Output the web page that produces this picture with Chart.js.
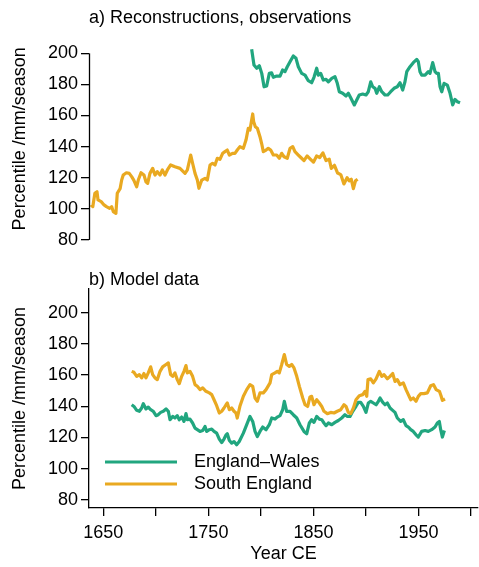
<!DOCTYPE html>
<html>
<head>
<meta charset="utf-8">
<script src="https://cdn.jsdelivr.net/npm/chart.js@4"></script>
<style>
  html, body { margin: 0; padding: 0; background: #fff; }
  #wrap { position: relative; width: 479px; height: 567px; }
  #wrap canvas { position: absolute; left: 0; top: 0; }
</style>
</head>
<body>
<div id="wrap">
  <canvas id="panelA" width="479" height="567"></canvas>
  <canvas id="panelB" width="479" height="567"></canvas>
</div>
<script>
// Seasonal precipitation percentile (mm/season), [year CE, value]

// a) reconstructions and observations
const southEnglandRecon = [
  [1638.3,102.5],[1640,101.4],[1642,110],[1644,111],[1645,105.7],[1648,104.6],[1650.7,102.5],[1653,101.4],
  [1656,100.3],[1658,101.4],[1659.5,98.2],[1662,97.1],[1663.3,110],[1666,113],[1667.5,118.5],[1669,121.7],
  [1672,123.2],[1674.7,122.8],[1677,120.7],[1679,118.5],[1681.8,114.2],[1683.3,118.5],[1685.9,123.2],
  [1688.7,121.7],[1690.6,117.4],[1692.2,116.4],[1694.4,122.8],[1697,126],[1699.2,121.7],[1701.4,123.9],
  [1704,121.7],[1706.2,125],[1708.7,121.7],[1711,125],[1714.1,128.2],[1718.2,127],[1723,126],[1727.8,122.8],
  [1730,125],[1733.2,134.6],[1735,129.3],[1737.3,122.8],[1739.5,118.5],[1741,113.2],[1743.7,118.5],
  [1746.8,119.6],[1749,118.5],[1751.6,128.2],[1754,129.3],[1756.3,128.2],[1758.5,132.5],[1761,131.8],
  [1763.6,135.7],[1765.8,136.8],[1768,137.8],[1770,134.6],[1773,135.7],[1775.3,135.7],[1777.5,137.8],
  [1780,140],[1783.3,138.9],[1785.8,144.2],[1788,151.8],[1789.6,150.7],[1791.2,157.1],[1792.2,161],
  [1793.1,156],[1794.7,152.8],[1796.6,151.8],[1799.1,146.4],[1800.7,142],[1802.3,136.8],[1804.9,137.8],
  [1807,138.9],[1809.3,137.8],[1811.8,134.6],[1815,134.6],[1817.5,132.5],[1819.8,135.7],[1822,133.5],
  [1825.1,132.5],[1827.7,138.9],[1830.3,140],[1832.4,136.8],[1835.6,134.6],[1838,133],[1841,131],
  [1844,134],[1847,132],[1850,130],[1853,134],[1856,133],[1859,136],[1862,131],[1865,132],[1867,126],
  [1870,128],[1873,123],[1876,122],[1879,116],[1882,120],[1884,118],[1886,119],[1888,113],[1890,118],
  [1892,119]
];

const englandWalesObs = [
  [1791.2,202.6],[1793.4,192.5],[1796,190.4],[1798.5,192],[1800.8,187.1],[1803,178.5],[1805.5,179],
  [1808,187.1],[1810.2,187.5],[1811.8,184.6],[1815,185.4],[1818.2,185.4],[1820.7,189.3],[1822.9,188.2],
  [1825.1,191.4],[1827.7,194.6],[1830.8,198.3],[1833.4,196.8],[1835.6,191.4],[1838.8,187.1],[1842,186],
  [1845.1,182.4],[1848.3,181.1],[1850.5,184.6],[1853.1,190.4],[1854.6,186],[1856.9,187.1],[1859.4,182.8],
  [1862,183.3],[1864.2,181.7],[1867.4,183.9],[1870.5,185],[1872.7,180.7],[1874.6,175.3],[1877.8,174.3],
  [1881,172.5],[1883.2,174.3],[1885.7,171.1],[1888.9,166.8],[1891.2,170],[1893.6,173.2],[1896.9,173.8],
  [1900,173.2],[1902.2,175.3],[1904.5,181.7],[1906.4,178.5],[1908.6,177.5],[1910.2,174.3],[1912.7,178.5],
  [1915,175.3],[1918.1,173.2],[1920.7,173.2],[1923.5,175.3],[1926.7,177.5],[1929.8,178.5],[1932.4,181.1],
  [1934.9,176.4],[1937.1,181.7],[1938.8,188.2],[1941.9,191.4],[1945,194],[1948.3,196.1],[1949.8,194.6],
  [1951.4,188.2],[1953,186],[1956.2,186],[1959.3,188.2],[1960.9,187.1],[1963.5,194],[1965.7,188.2],
  [1967.3,187.1],[1968.9,187.1],[1970.5,178.5],[1972.1,175.3],[1974.3,180.7],[1977.4,179.6],[1980,174.3],
  [1982.5,166.8],[1984.7,170.4],[1986.9,168.9],[1989.5,168.2]
];

// b) model data
const englandWalesModel = [
  [1677,141],[1679.2,139.9],[1681.8,137.4],[1684.3,136.8],[1686.5,138.9],[1688.1,141.7],[1690.6,138.3],
  [1692.8,139.5],[1695.1,137.8],[1697.6,136.8],[1700.2,134],[1702.3,134.6],[1704.6,136.1],[1707.1,136.8],
  [1709.7,138.3],[1711.9,136.8],[1713.5,131.4],[1716,133.5],[1718.2,132.5],[1720.4,134],[1722.3,131.4],
  [1724.6,133.1],[1726.8,130.3],[1728.7,135.3],[1730,131.4],[1732.5,131.8],[1735,129.3],[1737.3,126],
  [1739.5,125],[1742,123.9],[1744.6,124.5],[1746.8,127.1],[1748.4,123.9],[1750.9,125],[1753.2,125.4],
  [1755.4,123.9],[1757.9,122.8],[1760.4,119],[1762.7,116.8],[1764.9,119],[1766.8,121.7],[1768,122.4],
  [1770,118.1],[1772.2,116.4],[1774.4,117.4],[1776.9,115.3],[1779.4,117.4],[1783.3,122.8],[1786.5,128.2],
  [1789.6,133.5],[1792.2,130.3],[1794.4,123.9],[1796.6,120.6],[1799.1,123.9],[1801.7,126.7],[1804.9,125],
  [1808,128.2],[1810.3,132.5],[1813.4,131.8],[1815.6,133.1],[1818.2,134],[1820.7,137.8],[1822.3,143.2],
  [1824.5,136.8],[1827.7,136.8],[1830.8,134.6],[1834.1,132.5],[1837.2,128.2],[1841,123.9],[1843.6,122.4],
  [1846.1,129.3],[1848.3,131.4],[1850.5,129.7],[1853.1,133.5],[1855.6,131.8],[1857.9,131.4],[1860,129.3],
  [1862,127.6],[1864.2,129.3],[1867.4,128.2],[1870.5,129.7],[1873.7,130.9],[1876.9,132.5],[1880,134.6],
  [1882.3,133.5],[1884.8,133.5],[1887.4,136.8],[1890.5,140],[1892.7,142.5],[1895,142.5],[1897.5,140],
  [1900,136.1],[1902.2,142.1],[1904.5,143.2],[1907,142.1],[1909.6,141],[1911.8,143.2],[1913.4,145.3],
  [1916,142.5],[1918.1,141],[1920.3,142.1],[1922.9,138.9],[1925.4,137.4],[1927.6,136.1],[1929.8,132.5],
  [1933,130.3],[1935.5,131.4],[1938.1,127.6],[1940.3,126.7],[1942.6,125],[1945,123.9],[1947.6,121.7],
  [1949.8,120.3],[1953,123.9],[1956.2,124.5],[1959.3,123.9],[1962.5,125],[1965.7,126.7],[1967.9,129.3],
  [1969.8,130.3],[1971.1,125],[1972.7,120.3],[1974.6,124.5]
];

const southEnglandModel = [
  [1677,162.4],[1679.2,161.8],[1681.8,159.2],[1684.3,160.3],[1686.5,158.2],[1688.7,161],[1690.6,158.2],
  [1692.8,161.4],[1695.1,165.3],[1697,160.3],[1699.2,158.2],[1701.4,157.1],[1704,162.4],[1706.5,165.3],
  [1709.7,166.8],[1711.9,167.8],[1714.1,160.3],[1716,159.2],[1718.2,161.4],[1720.4,157.1],[1722.3,154.5],
  [1724.6,159.2],[1726.8,162.4],[1728.7,166.1],[1730,161.4],[1732.5,162.4],[1735,159.2],[1737.3,153.9],
  [1739.5,152.8],[1742,150.7],[1744.6,151.8],[1747.7,149.6],[1750.9,148.6],[1753.2,147.5],[1755.4,144.2],
  [1757.9,140.4],[1760.4,135.7],[1762.7,136.8],[1764.9,138.9],[1766.8,141],[1768,142.1],[1770,137.8],
  [1772.2,138.9],[1774.4,136.8],[1776.3,135.7],[1777.5,132.5],[1780,140],[1783.3,146.4],[1786.5,150.7],
  [1789.6,153.9],[1792.2,152.8],[1794.4,145.3],[1796.6,143.2],[1799.1,148.6],[1802.3,148.6],[1804.9,150.7],
  [1808.7,155],[1810.3,160.3],[1813.4,161.4],[1815.6,162.4],[1817.5,161.4],[1819.8,166.8],[1822.3,173.2],
  [1824.5,166.8],[1827,165.6],[1829.3,166.8],[1831.5,164.6],[1834.1,159.2],[1836.6,152.8],[1839.8,145.3],
  [1842,141],[1844.5,139.9],[1846.7,146],[1848.3,146.4],[1850.5,141],[1853.1,144.2],[1855.6,142.1],
  [1857.9,139.9],[1860,136.8],[1863.2,135.3],[1866.4,136.1],[1869.6,135.7],[1872.7,136.8],[1876,137.8],
  [1879.1,141],[1881,139.9],[1883.2,136.1],[1885.5,135.3],[1888,138.9],[1890.5,144.2],[1893.6,146.8],
  [1896.9,147.5],[1899,149.6],[1900.7,146.4],[1901.9,157.1],[1904.5,157.6],[1907,155],[1909.6,157.6],
  [1912.7,162.4],[1915,159.2],[1917.2,160.3],[1920.3,157.6],[1922.9,159.2],[1925.4,161],[1927.6,156],
  [1929.8,157.1],[1932.4,153.9],[1935.5,155],[1938.1,150.7],[1940.3,147.5],[1942.6,144.2],[1945,145.3],
  [1947.6,143.2],[1949.8,146.4],[1952.1,148.1],[1955.2,148.1],[1958.4,148.6],[1961.6,153.2],[1964.2,153.9],
  [1966.7,150.7],[1969.9,149.6],[1971.4,146.8],[1972.7,143.8],[1975.2,144.7]
];

const yTickValues = [80, 100, 120, 140, 160, 180, 200];
const xTickValues = [1650, 1700, 1750, 1800, 1850, 1900, 1950, 2000];
const xLabelledTicks = [1650, 1750, 1850, 1950];
const panelTitles = ['a) Reconstructions, observations', 'b) Model data'];
const seriesNames = ['England\u2013Wales', 'South England'];
const yAxisTitle = 'Percentile /mm/season';
const xAxisTitle = 'Year CE';

const GREEN = '#21a67f';
const ORANGE = '#e9a921';
const FONT = "'Liberation Sans', Arial, Helvetica, sans-serif";
const FS = 18;

// padded axis limits (4% either side of the plotting range)
const X_MIN = 1636.4, X_MAX = 2006.6;
const Y_MIN = 74.8, Y_MAX = 215.2;

Chart.defaults.font.family = FONT;
Chart.defaults.font.size = FS;
Chart.defaults.color = '#000';

const toPoints = arr => arr.map(([x, y]) => ({ x, y }));

function lineSet(label, data, color) {
  return {
    label, data: toPoints(data), borderColor: color, backgroundColor: color,
    borderWidth: 3.2, pointRadius: 0, tension: 0, fill: false,
    borderJoinStyle: 'round', borderCapStyle: 'butt'
  };
}

function yScale(opts) {
  return Object.assign({
    type: 'linear', min: Y_MIN, max: Y_MAX,
    afterBuildTicks: s => { s.ticks = yTickValues.map(v => ({ value: v })); },
    afterFit: s => { s.width = 89; },
    ticks: { padding: 3, font: { size: FS }, color: '#000' },
    grid: { drawOnChartArea: false, drawTicks: true, tickLength: 8, color: '#000', lineWidth: 1.3 },
    title: { display: true, text: yAxisTitle, font: { size: FS }, color: '#000', padding: { top: 9, bottom: 0 } }
  }, opts);
}

// panel heading drawn above the plotting region
const panelLabel = {
  id: 'panelLabel',
  afterDraw(chart, args, opt) {
    const { ctx, chartArea } = chart;
    ctx.save();
    ctx.font = FS + 'px ' + FONT;
    ctx.fillStyle = '#000';
    ctx.textAlign = 'left';
    ctx.textBaseline = 'middle';
    ctx.fillText(opt.text, chartArea.left, opt.y);
    ctx.restore();
  }
};

// y axis line spanning the labelled ticks only (panel a)
const tickSpanAxis = {
  id: 'tickSpanAxis',
  afterDraw(chart) {
    const y = chart.scales.y;
    const x0 = Math.round(chart.chartArea.left) + 0.5;
    const top = y.getPixelForValue(yTickValues[yTickValues.length - 1]);
    const bot = y.getPixelForValue(yTickValues[0]);
    const ctx = chart.ctx;
    ctx.save();
    ctx.strokeStyle = '#000';
    ctx.lineWidth = 1.3;
    ctx.beginPath();
    ctx.moveTo(x0, top);
    ctx.lineTo(x0, bot);
    ctx.stroke();
    ctx.restore();
  }
};

// legend inside the lower-left of panel b
const insideLegend = {
  id: 'insideLegend',
  afterDraw(chart) {
    const { ctx, chartArea } = chart;
    const y = chart.scales.y;
    const rows = [
      { name: seriesNames[0], color: GREEN, value: 104.3 },
      { name: seriesNames[1], color: ORANGE, value: 90.2 }
    ];
    ctx.save();
    ctx.font = FS + 'px ' + FONT;
    ctx.textBaseline = 'middle';
    ctx.textAlign = 'left';
    rows.forEach(r => {
      const py = y.getPixelForValue(r.value);
      ctx.strokeStyle = r.color;
      ctx.lineWidth = 3.2;
      ctx.beginPath();
      ctx.moveTo(chartArea.left + 16, py);
      ctx.lineTo(chartArea.left + 88, py);
      ctx.stroke();
      ctx.fillStyle = '#000';
      ctx.fillText(r.name, chartArea.left + 105, py);
    });
    ctx.restore();
  }
};

new Chart(document.getElementById('panelA'), {
  type: 'line',
  data: {
    datasets: [
      lineSet(seriesNames[1], southEnglandRecon, ORANGE),
      lineSet(seriesNames[0], englandWalesObs, GREEN)
    ]
  },
  options: {
    responsive: false, animation: false, devicePixelRatio: 1,
    layout: { padding: { left: 0, right: 1, top: 29.7, bottom: 319 } },
    plugins: { legend: { display: false }, tooltip: { enabled: false }, panelLabel: { text: panelTitles[0], y: 18 } },
    scales: {
      x: { type: 'linear', min: X_MIN, max: X_MAX, display: false },
      y: yScale({ border: { display: false } })
    }
  },
  plugins: [panelLabel, tickSpanAxis]
});

new Chart(document.getElementById('panelB'), {
  type: 'line',
  data: {
    datasets: [
      lineSet(seriesNames[1], southEnglandModel, ORANGE),
      lineSet(seriesNames[0], englandWalesModel, GREEN)
    ]
  },
  options: {
    responsive: false, animation: false, devicePixelRatio: 1,
    layout: { padding: { left: 0, right: 1, top: 289, bottom: 0 } },
    plugins: { legend: { display: false }, tooltip: { enabled: false }, panelLabel: { text: panelTitles[1], y: 280 } },
    scales: {
      x: {
        type: 'linear', min: X_MIN, max: X_MAX,
        afterBuildTicks: s => { s.ticks = xTickValues.map(v => ({ value: v })); },
        afterFit: s => { s.height = 59; },
        ticks: {
          autoSkip: false, maxRotation: 0, padding: 6, color: '#000', font: { size: FS },
          callback: v => xLabelledTicks.includes(v) ? String(v) : ''
        },
        grid: { drawOnChartArea: false, drawTicks: true, tickLength: 8, color: '#000', lineWidth: 1.3 },
        border: { display: true, color: '#000', width: 1.3 },
        title: { display: true, text: xAxisTitle, font: { size: FS }, color: '#000', padding: { top: 0, bottom: 2 } }
      },
      y: yScale({ border: { display: true, color: '#000', width: 1.3 } })
    }
  },
  plugins: [panelLabel, insideLegend]
});
</script>
</body>
</html>
